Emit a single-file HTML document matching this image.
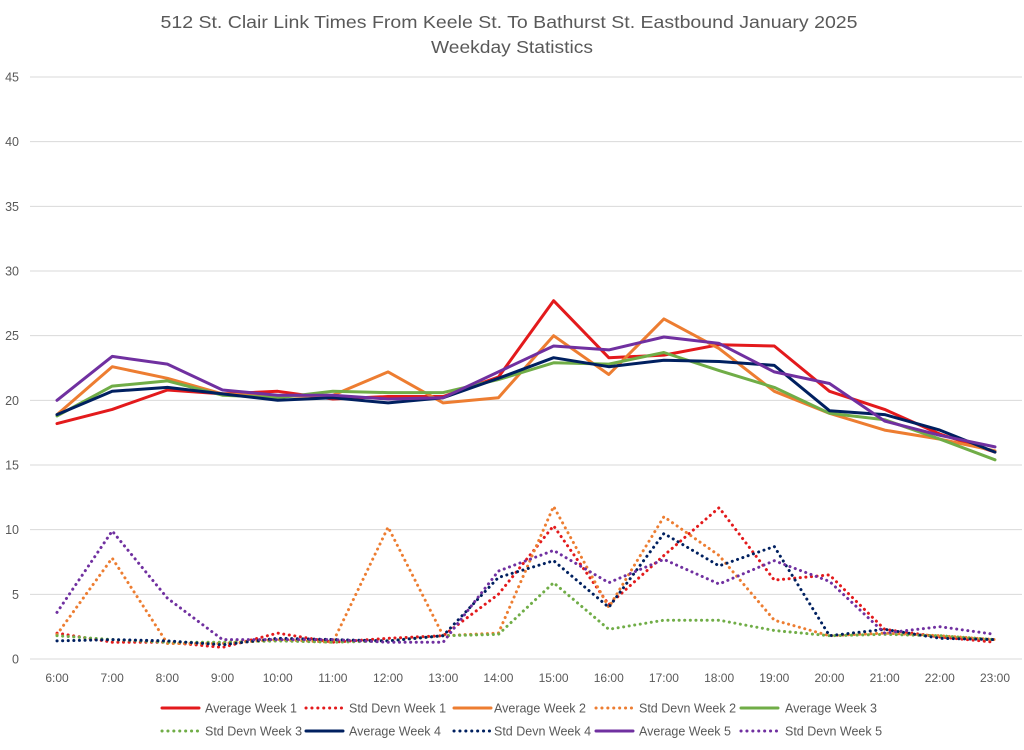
<!DOCTYPE html>
<html><head><meta charset="utf-8"><style>
body{margin:0;background:#fff;}
svg{display:block;font-family:"Liberation Sans",sans-serif;}
</style></head><body>
<svg id="chart" width="1024" height="750">
<text x="509" y="28" text-anchor="middle" font-size="17.5" fill="#595959" textLength="697" lengthAdjust="spacingAndGlyphs">512 St. Clair Link Times From Keele St. To Bathurst St. Eastbound January 2025</text>
<text x="512" y="53" text-anchor="middle" font-size="17.5" fill="#595959" textLength="162" lengthAdjust="spacingAndGlyphs">Weekday Statistics</text>
<g id="grid"></g><g id="series"></g><g id="legend"></g>
</svg>
<script>
const categories=["6:00","7:00","8:00","9:00","10:00","11:00","12:00","13:00","14:00","15:00","16:00","17:00","18:00","19:00","20:00","21:00","22:00","23:00"];
const yTicks=[0,5,10,15,20,25,30,35,40,45];
const avgW1=[18.2,19.3,20.8,20.5,20.7,20.1,20.3,20.3,21.8,27.7,23.3,23.5,24.3,24.2,20.7,19.3,17.4,16.0];
const stdW1=[2.0,1.3,1.3,0.9,2.0,1.3,1.6,1.8,5.0,10.3,4.2,8.0,11.7,6.1,6.5,2.3,1.7,1.3];
const avgW2=[18.9,22.6,21.7,20.5,20.3,20.4,22.2,19.8,20.2,25.0,22.0,26.3,24.0,20.7,19.0,17.7,17.0,16.1];
const stdW2=[1.9,7.8,1.2,1.2,1.5,1.3,10.2,1.8,2.0,11.8,4.0,11.0,8.0,3.0,1.8,2.0,1.8,1.5];
const avgW3=[18.8,21.1,21.5,20.4,20.2,20.7,20.6,20.6,21.6,22.9,22.8,23.7,22.3,21.0,19.0,18.5,17.0,15.4];
const stdW3=[1.8,1.5,1.3,1.3,1.4,1.3,1.4,1.8,1.9,5.9,2.3,3.0,3.0,2.2,1.8,1.9,1.8,1.5];
const avgW4=[18.9,20.7,21.0,20.5,20.0,20.2,19.8,20.2,21.7,23.3,22.6,23.1,23.0,22.7,19.2,18.9,17.7,16.0];
const stdW4=[1.4,1.5,1.4,1.1,1.6,1.5,1.4,1.8,6.3,7.6,4.0,9.7,7.2,8.7,1.8,2.3,1.6,1.5];
const avgW5=[20.0,23.4,22.8,20.8,20.4,20.4,20.1,20.2,22.2,24.2,23.9,24.9,24.4,22.2,21.3,18.4,17.3,16.4];
const stdW5=[3.6,9.9,4.7,1.5,1.5,1.5,1.3,1.3,6.8,8.4,5.9,7.7,5.8,7.6,6.0,2.0,2.5,1.9];
const seriesNames=["Average Week 1","Std Devn Week 1","Average Week 2","Std Devn Week 2","Average Week 3","Std Devn Week 3","Average Week 4","Std Devn Week 4","Average Week 5","Std Devn Week 5"];
const seriesData=[avgW1,stdW1,avgW2,stdW2,avgW3,stdW3,avgW4,stdW4,avgW5,stdW5];
const colors=["#e31a1c","#e31a1c","#ed7d31","#ed7d31","#70ad47","#70ad47","#002060","#002060","#7030a0","#7030a0"];

const NS="http://www.w3.org/2000/svg";
const plotL=30,plotR=1022,y0=659,y45=77,x0=57,x1=995;
const xs=i=>x0+i*(x1-x0)/(categories.length-1);
const ys=v=>y0-v*(y0-y45)/45;
function mk(tag,attrs,parent){const e=document.createElementNS(NS,tag);for(const k in attrs)e.setAttribute(k,attrs[k]);parent.appendChild(e);return e;}
const grid=document.getElementById('grid');
yTicks.forEach(t=>{
  const l=mk('line',{x1:plotL,x2:plotR,y1:ys(t),y2:ys(t),stroke:'#d9d9d9','stroke-width':1},grid);
  
  
  const tx=mk('text',{x:19,y:ys(t)+4.5,'text-anchor':'end','font-size':12.5,fill:'#595959'},grid);
  tx.textContent=t;
  
  
});
categories.forEach((c,i)=>{
  const tx=mk('text',{x:xs(i),y:682,'text-anchor':'middle','font-size':12,fill:'#595959'},grid);
  tx.textContent=c;
  
  
});
const sg=document.getElementById('series');
const order=[1,3,5,7,9,0,2,4,6,8];
order.forEach(k=>{
  const dotted=k%2===1;
  const pts=seriesData[k].map((v,i)=>xs(i).toFixed(1)+','+ys(v).toFixed(1)).join(' ');
  const p=mk('polyline',{points:pts,fill:'none',stroke:colors[k],'stroke-width':dotted?3:3,'stroke-linejoin':'round','stroke-linecap':'round','stroke-dasharray':dotted?'0.1 5.5':'none'},sg);
  
  
});
const lg=document.getElementById('legend');
const lineX=[162,306,454,596,741],textX=[205,349,494,639,785],rowY=[708,731];
seriesNames.forEach((n,k)=>{
  const r=Math.floor(k/5),c=k%5,dotted=k%2===1;
  const g=mk('g',{},lg);
  
  
  mk('line',{x1:lineX[c],x2:lineX[c]+37,y1:rowY[r],y2:rowY[r],stroke:colors[k],'stroke-width':3,'stroke-linecap':'round','stroke-dasharray':dotted?'0.1 5.8':'none'},g);
  const t=mk('text',{x:textX[c],y:rowY[r]+4.5,'font-size':12.5,fill:'#595959'},g);
  t.textContent=n;
});
</script>
</body></html>
